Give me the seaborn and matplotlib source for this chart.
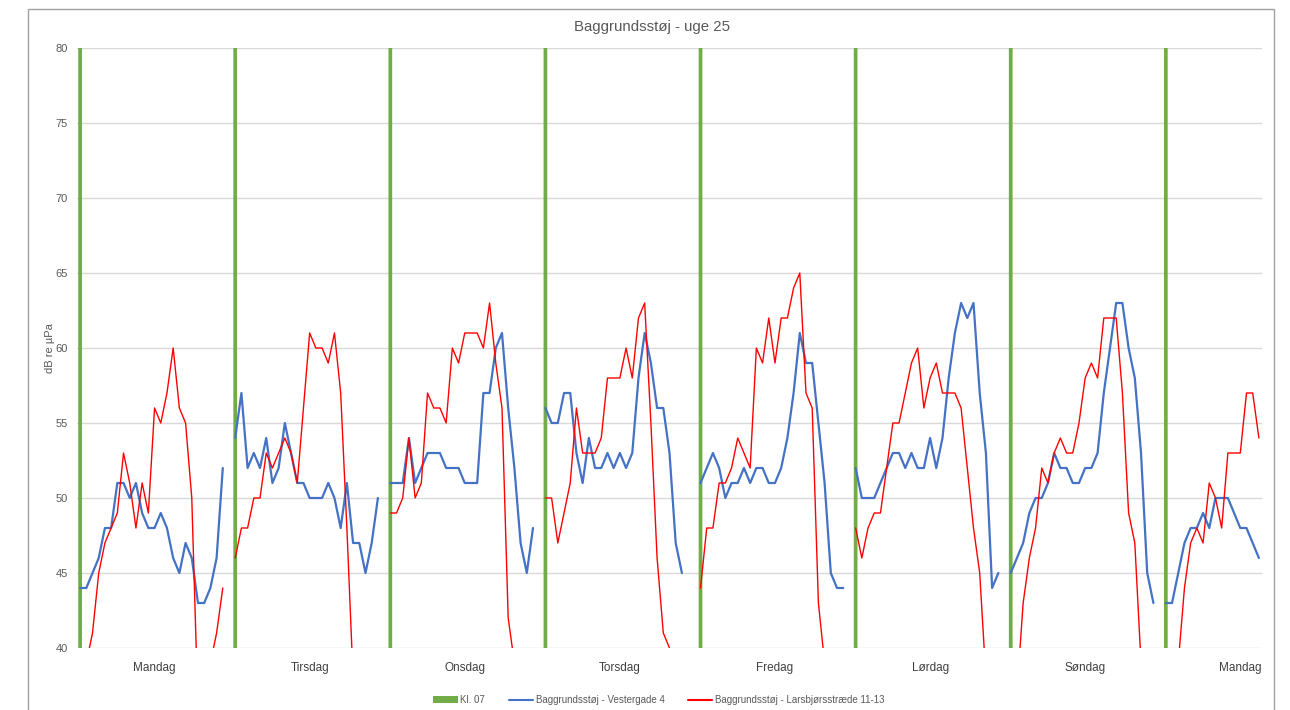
import numpy as np
import pandas as pd
import matplotlib.pyplot as plt
import seaborn as sns
from matplotlib.lines import Line2D
from matplotlib.patches import Patch, Rectangle

# ── Data (hourly values per day) ─────────────────────────────
days = ["Mandag", "Tirsdag", "Onsdag", "Torsdag", "Fredag", "Lørdag", "Søndag", "Mandag"]

vestergade = [
    [44, 44, 45, 46, 48, 48, 51, 51, 50, 51, 49, 48, 48, 49, 48, 46, 45, 47, 46, 43, 43, 44, 46, 52],
    [54, 57, 52, 53, 52, 54, 51, 52, 55, 53, 51, 51, 50, 50, 50, 51, 50, 48, 51, 47, 47, 45, 47, 50],
    [51, 51, 51, 54, 51, 52, 53, 53, 53, 52, 52, 52, 51, 51, 51, 57, 57, 60, 61, 56, 52, 47, 45, 48],
    [56, 55, 55, 57, 57, 53, 51, 54, 52, 52, 53, 52, 53, 52, 53, 58, 61, 59, 56, 56, 53, 47, 45, np.nan],
    [51, 52, 53, 52, 50, 51, 51, 52, 51, 52, 52, 51, 51, 52, 54, 57, 61, 59, 59, 55, 51, 45, 44, 44],
    [52, 50, 50, 50, 51, 52, 53, 53, 52, 53, 52, 52, 54, 52, 54, 58, 61, 63, 62, 63, 57, 53, 44, 45],
    [45, 46, 47, 49, 50, 50, 51, 53, 52, 52, 51, 51, 52, 52, 53, 57, 60, 63, 63, 60, 58, 53, 45, 43],
    [43, 43, 45, 47, 48, 48, 49, 48, 50, 50, 50, 49, 48, 48, 47, 46],
]

larsbjoern = [
    [38, 39, 41, 45, 47, 48, 49, 53, 51, 48, 51, 49, 56, 55, 57, 60, 56, 55, 50, 36, 37, 39, 41, 44],
    [46, 48, 48, 50, 50, 53, 52, 53, 54, 53, 51, 56, 61, 60, 60, 59, 61, 57, 48, 38, 37, 36, 35, 36],
    [49, 49, 50, 54, 50, 51, 57, 56, 56, 55, 60, 59, 61, 61, 61, 60, 63, 59, 56, 42, 39, 36, 35, 35],
    [50, 50, 47, 49, 51, 56, 53, 53, 53, 54, 58, 58, 58, 60, 58, 62, 63, 55, 46, 41, 40, 37, 36, 36],
    [44, 48, 48, 51, 51, 52, 54, 53, 52, 60, 59, 62, 59, 62, 62, 64, 65, 57, 56, 43, 39, 36, 35, 35],
    [48, 46, 48, 49, 49, 52, 55, 55, 57, 59, 60, 56, 58, 59, 57, 57, 57, 56, 52, 48, 45, 38, 36, 35],
    [36, 37, 43, 46, 48, 52, 51, 53, 54, 53, 53, 55, 58, 59, 58, 62, 62, 62, 57, 49, 47, 39, 36, 35],
    [35, 36, 39, 44, 47, 48, 47, 51, 50, 48, 53, 53, 53, 57, 57, 54],
]

kl07_level = 80          # marker column at the first hour of each day
slots_per_day = 25       # 24 hours + one empty category between days

series_names = ["Baggrundsstøj - Vestergade 4", "Baggrundsstøj - Larsbjørsstræde 11-13"]

# ── Long table for seaborn ───────────────────────────────────
rows = []
for name, data in zip(series_names, [vestergade, larsbjoern]):
    for d, values in enumerate(data):
        for h, v in enumerate(values):
            rows.append({"serie": name, "dag": d, "pos": d * slots_per_day + h, "dB": v})
df = pd.DataFrame(rows).dropna()

n_slots = slots_per_day * (len(days) - 1) + len(vestergade[-1])
kl07_pos = [d * slots_per_day for d in range(len(days))]

# ── Figure ───────────────────────────────────────────────────
sns.set_theme(style="white")
plt.rcParams["font.family"] = ["Liberation Sans", "DejaVu Sans"]

W, H = 1290, 710
fig = plt.figure(figsize=(W / 100, H / 100), dpi=100)
ax = fig.add_axes([77 / W, 1 - 648 / H, 1185 / W, 600 / H])

ax.bar(kl07_pos, [kl07_level] * len(kl07_pos), width=0.6, color="#70ad47",
       linewidth=0, snap=False, zorder=2)

colors = {series_names[0]: "#4472c4", series_names[1]: "#ff0000"}
widths = {series_names[0]: 1.6, series_names[1]: 1.0}
for name in series_names:
    sns.lineplot(data=df[df["serie"] == name], x="pos", y="dB", units="dag",
                 estimator=None, color=colors[name], linewidth=widths[name],
                 ax=ax, legend=False, zorder=3)

ax.set_xlim(-0.5, n_slots - 0.5)
ax.set_ylim(40, 80)
ax.set_yticks(range(40, 81, 5))
ax.set_xticks([d * slots_per_day + 12 for d in range(len(days))])
ax.set_xticklabels(days)
ax.set_xlabel("")
ax.set_ylabel("")
ax.grid(axis="y", color="#d9d9d9", linewidth=1)
ax.set_axisbelow(True)
for s in ax.spines.values():
    s.set_visible(False)
ax.tick_params(axis="x", length=0, pad=10, labelsize=8.5, labelcolor="#404040")
ax.tick_params(axis="y", length=0, pad=6.5, labelsize=8, labelcolor="#595959")

fig.text(652 / W, 1 - 27 / H, "Baggrundsstøj - uge 25", ha="center", va="center",
         fontsize=10.8, color="#595959")
fig.text(49.5 / W, 1 - 348 / H, "dB re µPa", rotation=90, ha="center", va="center",
         fontsize=8, color="#595959")

handles = [Patch(facecolor="#70ad47", edgecolor="none"),
           Line2D([], [], color="#4472c4", linewidth=1.5),
           Line2D([], [], color="#ff0000", linewidth=1.5)]
fig.legend(handles, ["Kl. 07"] + series_names, loc="center",
           bbox_to_anchor=(659 / W, 1 - 700 / H), ncol=3, frameon=False,
           fontsize=7, handlelength=2.5, handletextpad=0.3, columnspacing=2.4,
           labelcolor="#595959")

# chart frame
fig.patches.append(Rectangle((28 / W, -0.05), (1274 - 28) / W, 1 - 9 / H + 0.05,
                             transform=fig.transFigure, fill=False,
                             edgecolor="#a0a0a0", linewidth=1))

fig.savefig("out.png", dpi=100)
